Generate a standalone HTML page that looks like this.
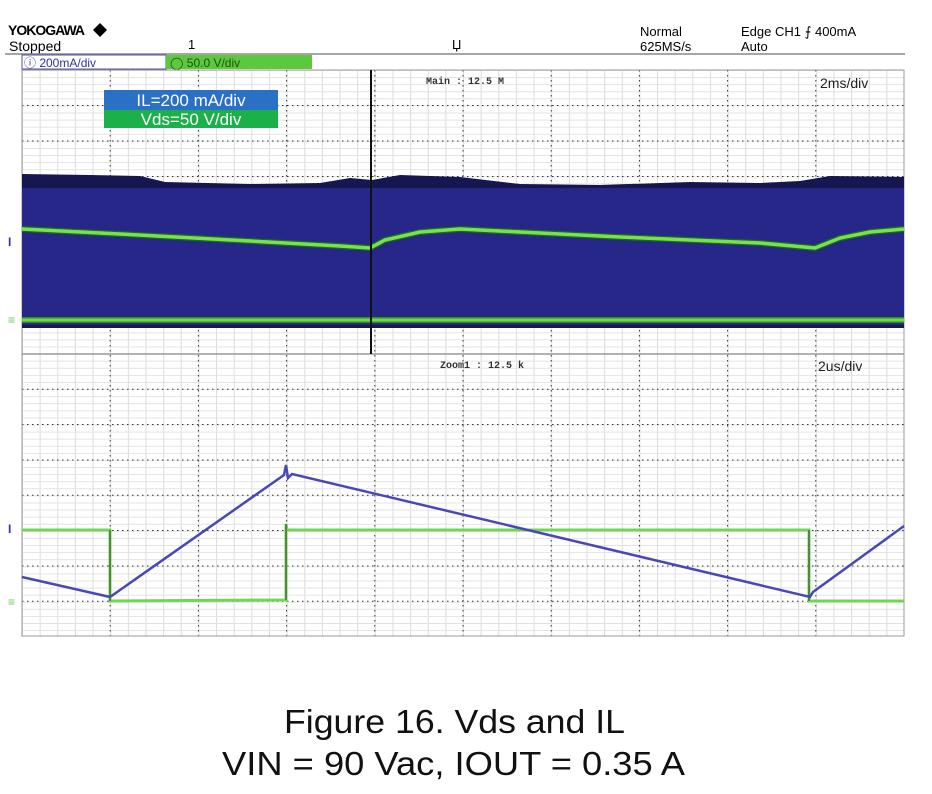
<!DOCTYPE html>
<html><head><meta charset="utf-8"><style>
html,body{margin:0;padding:0;background:#fff;width:932px;height:794px;overflow:hidden}
svg{display:block}
.m{font-family:"Liberation Mono",monospace}
.s{font-family:"Liberation Sans",sans-serif}
</style></head><body>
<svg width="932" height="794" viewBox="0 0 932 794" xmlns="http://www.w3.org/2000/svg">
<defs>
<pattern id="minx" x="22" y="0" width="17.64" height="794" patternUnits="userSpaceOnUse"><line x1="0.5" y1="0" x2="0.5" y2="794" stroke="#dcdcdc" stroke-width="1"/></pattern>
<pattern id="miny" x="0" y="70" width="932" height="7.09" patternUnits="userSpaceOnUse"><line x1="0" y1="0.5" x2="932" y2="0.5" stroke="#e2e2e2" stroke-width="1"/></pattern>
</defs>
<text x="8" y="35" class="s" font-size="14" font-weight="bold" letter-spacing="-1">YOKOGAWA</text>
<path d="M100 23 l7 7 -7 7 -7 -7z" fill="#000"/>
<text x="9" y="51" class="s" font-size="14">Stopped</text>
<text x="188" y="49" class="s" font-size="13">1</text>
<text x="452" y="49" class="s" font-size="13">Џ</text>
<text x="640" y="36" class="s" font-size="13">Normal</text>
<text x="640" y="51" class="s" font-size="13">625MS/s</text>
<text x="741" y="36" class="s" font-size="13">Edge CH1 ⨍ 400mA</text>
<text x="741" y="51" class="s" font-size="13">Auto</text>
<line x1="5" y1="54" x2="905" y2="54" stroke="#888" stroke-width="1.5"/>
<rect x="22" y="55" width="144" height="14" fill="#fff" stroke="#5050a0" stroke-width="1"/>
<text x="24" y="67" class="s" font-size="12" fill="#3030a0">ⓘ 200mA/div</text>
<rect x="166" y="55" width="146" height="14" fill="#5cc83c"/>
<text x="170" y="67" class="s" font-size="12" fill="#205010">◯ 50.0 V/div</text>
<rect x="22" y="70" width="882" height="566" fill="#fff"/>
<rect x="22" y="70" width="882" height="566" fill="url(#minx)"/>
<rect x="22" y="70" width="882" height="566" fill="url(#miny)"/>
<g stroke="#333" stroke-width="1" stroke-dasharray="1.5,3.5">
<line x1="110.2" y1="70" x2="110.2" y2="636"/><line x1="198.4" y1="70" x2="198.4" y2="636"/><line x1="286.6" y1="70" x2="286.6" y2="636"/><line x1="374.8" y1="70" x2="374.8" y2="636"/><line x1="463" y1="70" x2="463" y2="636"/><line x1="551.2" y1="70" x2="551.2" y2="636"/><line x1="639.4" y1="70" x2="639.4" y2="636"/><line x1="727.6" y1="70" x2="727.6" y2="636"/><line x1="815.8" y1="70" x2="815.8" y2="636"/>
<line x1="22" y1="105.5" x2="904" y2="105.5"/><line x1="22" y1="141" x2="904" y2="141"/><line x1="22" y1="176.5" x2="904" y2="176.5"/><line x1="22" y1="212" x2="904" y2="212"/><line x1="22" y1="247.5" x2="904" y2="247.5"/><line x1="22" y1="283" x2="904" y2="283"/><line x1="22" y1="318.5" x2="904" y2="318.5"/>
<line x1="22" y1="389.3" x2="904" y2="389.3"/><line x1="22" y1="424.5" x2="904" y2="424.5"/><line x1="22" y1="460" x2="904" y2="460"/><line x1="22" y1="495.3" x2="904" y2="495.3"/><line x1="22" y1="530.5" x2="904" y2="530.5"/><line x1="22" y1="566" x2="904" y2="566"/><line x1="22" y1="601.3" x2="904" y2="601.3"/>
</g>
<rect x="22" y="70" width="882" height="566" fill="none" stroke="#999" stroke-width="1"/>
<line x1="22" y1="354" x2="904" y2="354" stroke="#999" stroke-width="1.5"/>
<path d="M22 174 L90 175 L140 176 L165 182 L250 184 L320 183 L350 178 L372 180 L400 175 L460 177 L520 184 L600 185 L690 182 L760 183 L800 181 L830 176 L904 177 L904 328 L22 328Z" fill="#161650"/>
<path d="M22 188 L904 188 L904 325 L22 325Z" fill="#27278a"/>
<line x1="22" y1="320" x2="904" y2="320" stroke="#3a8a20" stroke-width="6"/>
<line x1="22" y1="320" x2="904" y2="320" stroke="#66dd44" stroke-width="3"/>
<path d="M22 229 L120 234 L250 241 L340 246 L370 248 L385 240 L420 232 L460 229 L520 232 L620 237 L760 243 L815 248 L840 238 L870 232 L904 229" fill="none" stroke="#1a6a20" stroke-width="6"/>
<path d="M22 229 L120 234 L250 241 L340 246 L370 248 L385 240 L420 232 L460 229 L520 232 L620 237 L760 243 L815 248 L840 238 L870 232 L904 229" fill="none" stroke="#7ae050" stroke-width="3.5"/>
<line x1="371" y1="70" x2="371" y2="354" stroke="#111" stroke-width="2"/>
<rect x="104" y="90" width="174" height="20" fill="#2a70c4"/>
<text x="191" y="106" class="s" font-size="17" fill="#fff" text-anchor="middle">IL=200 mA/div</text>
<rect x="104" y="110" width="174" height="18" fill="#1cb04a"/>
<text x="191" y="125" class="s" font-size="17" fill="#fff" text-anchor="middle">Vds=50 V/div</text>
<text x="426" y="84" class="m" font-size="10" font-weight="bold" fill="#333">Main : 12.5 M</text>
<text x="820" y="88" class="s" font-size="14" fill="#222">2ms/div</text>
<text x="440" y="368" class="m" font-size="10" font-weight="bold" fill="#333">Zoom1 : 12.5 k</text>
<text x="818" y="371" class="s" font-size="14" fill="#222">2us/div</text>
<text x="8" y="246" class="s" font-size="12" font-weight="bold" fill="#3030a0">I</text>
<text x="8" y="533" class="s" font-size="12" font-weight="bold" fill="#3030a0">I</text>
<text x="8" y="324" class="s" font-size="12" fill="#66cc55">≡</text>
<text x="8" y="606" class="s" font-size="12" fill="#66cc55">≡</text>
<path d="M22 530 L110 530 L110 601 L286 600 L286 524 L287 530 L809 530 L809 601 L904 601" fill="none" stroke="#70d850" stroke-width="3"/>
<line x1="110" y1="530" x2="110" y2="601" stroke="#333" stroke-width="1"/>
<line x1="286" y1="524" x2="286" y2="600" stroke="#333" stroke-width="1"/>
<line x1="809" y1="530" x2="809" y2="601" stroke="#333" stroke-width="1"/>
<path d="M22 577 L110 597 L284 475 L286 465 L288 478 L292 474 L810 597 L813 592 L904 526" fill="none" stroke="#4848b8" stroke-width="2.5"/>
<text x="284" y="733" class="s" font-size="33" fill="#111" textLength="341" lengthAdjust="spacingAndGlyphs">Figure 16. Vds and IL</text>
<text x="222" y="775" class="s" font-size="33" fill="#111" textLength="463" lengthAdjust="spacingAndGlyphs">VIN = 90 Vac, IOUT = 0.35 A</text>
</svg>
</body></html>
